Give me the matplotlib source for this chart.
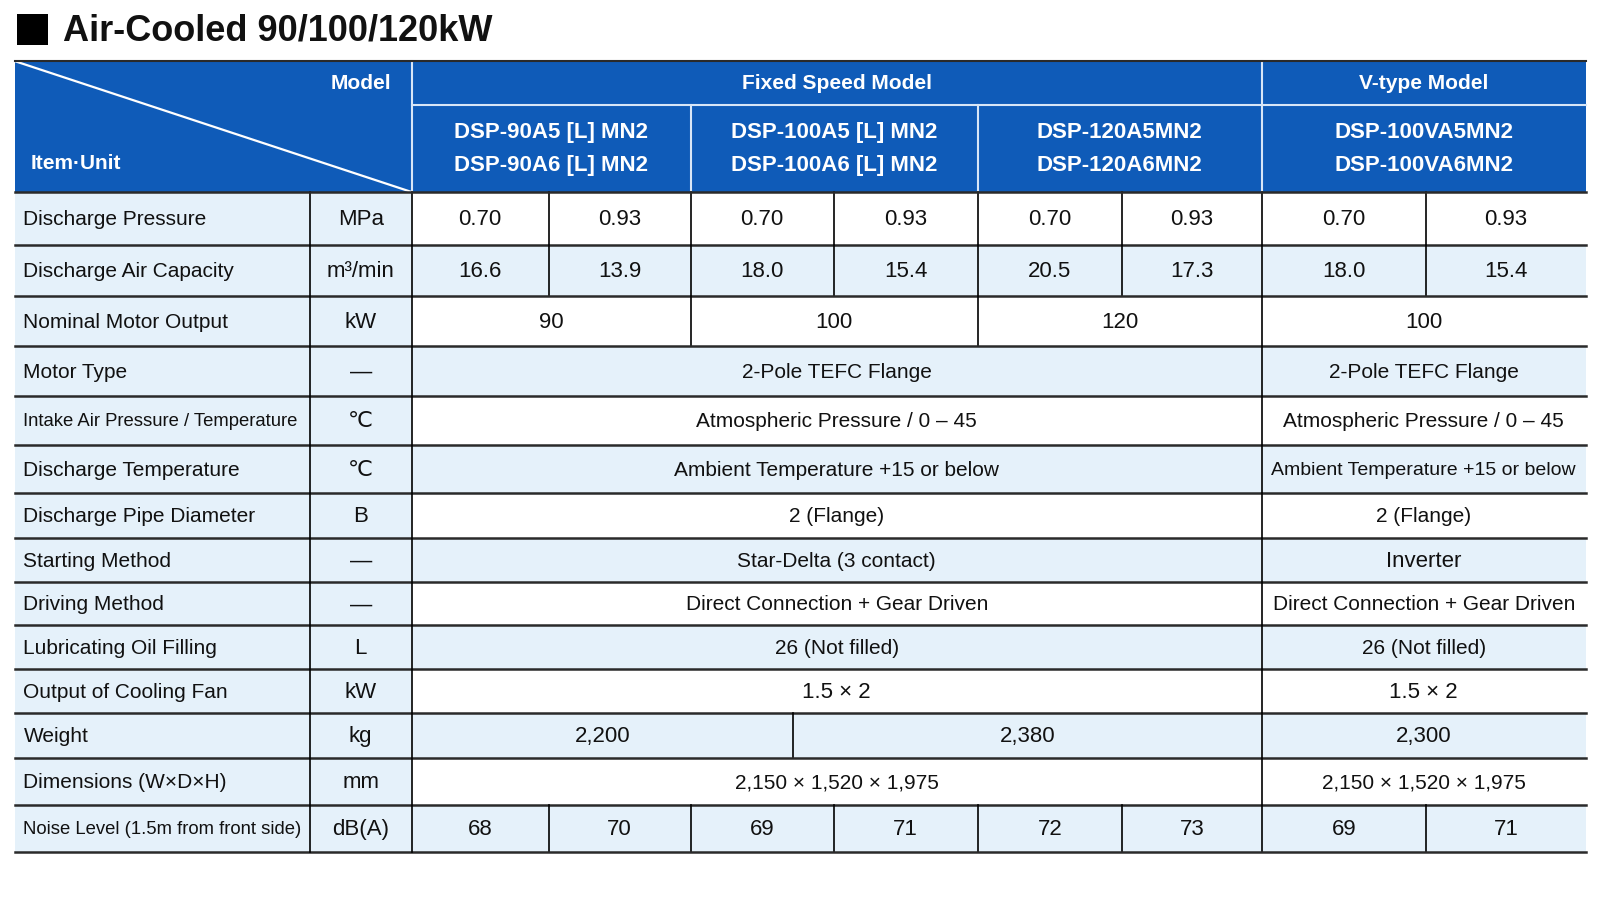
import matplotlib
matplotlib.use("Agg")
import matplotlib.pyplot as plt
from matplotlib.patches import Rectangle
import numpy as np

plt.rcParams['font.family'] = ['Liberation Sans', 'DejaVu Sans']

# Table content
title = "Air-Cooled 90/100/120kW"
groups = ["Fixed Speed Model", "V-type Model"]
models = [
    ["DSP-90A5 [L] MN2", "DSP-90A6 [L] MN2"],
    ["DSP-100A5 [L] MN2", "DSP-100A6 [L] MN2"],
    ["DSP-120A5MN2", "DSP-120A6MN2"],
    ["DSP-100VA5MN2", "DSP-100VA6MN2"],
]
items = [
    "Discharge Pressure", "Discharge Air Capacity", "Nominal Motor Output",
    "Motor Type", "Intake Air Pressure / Temperature", "Discharge Temperature",
    "Discharge Pipe Diameter", "Starting Method", "Driving Method",
    "Lubricating Oil Filling", "Output of Cooling Fan", "Weight",
    "Dimensions (W\u00d7D\u00d7H)", "Noise Level (1.5m from front side)",
]
units = ["MPa", "m\u00b3/min", "kW", "\u2014", "\u2103", "\u2103", "B",
         "\u2014", "\u2014", "L", "kW", "kg", "mm", "dB(A)"]

discharge_pressure = ["0.70", "0.93", "0.70", "0.93", "0.70", "0.93", "0.70", "0.93"]
air_capacity = ["16.6", "13.9", "18.0", "15.4", "20.5", "17.3", "18.0", "15.4"]
motor_output = ["90", "100", "120", "100"]
motor_type = ["2-Pole TEFC Flange", "2-Pole TEFC Flange"]
intake = ["Atmospheric Pressure / 0 \u2013 45", "Atmospheric Pressure / 0 \u2013 45"]
discharge_temp = ["Ambient Temperature +15 or below", "Ambient Temperature +15 or below"]
pipe = ["2 (Flange)", "2 (Flange)"]
starting = ["Star-Delta (3 contact)", "Inverter"]
driving = ["Direct Connection + Gear Driven", "Direct Connection + Gear Driven"]
oil = ["26 (Not filled)", "26 (Not filled)"]
fan = ["1.5 \u00d7 2", "1.5 \u00d7 2"]
weight = ["2,200", "2,380", "2,300"]
dimensions = ["2,150 \u00d7 1,520 \u00d7 1,975", "2,150 \u00d7 1,520 \u00d7 1,975"]
noise = ["68", "70", "69", "71", "72", "73", "69", "71"]

# column spans (in data-column units) for each kind of row
span_each = [(i, i + 1) for i in range(8)]
span_model = [(0, 2), (2, 4), (4, 6), (6, 8)]
span_group = [(0, 6), (6, 8)]
span_weight = [(0, 2.714), (2.714, 6), (6, 8)]

rows = [
    (discharge_pressure, span_each), (air_capacity, span_each),
    (motor_output, span_model), (motor_type, span_group),
    (intake, span_group), (discharge_temp, span_group),
    (pipe, span_group), (starting, span_group), (driving, span_group),
    (oil, span_group), (fan, span_group), (weight, span_weight),
    (dimensions, span_group), (noise, span_each),
]

# layout (pixel grid of the page)
W, H = 1566, 881
x_left, x_item, x_unit = 15, 303, 403
col_x = [403, 537, 676, 816, 957, 1098, 1235, 1396, 1552]
y_top, y_mid, y_head = 60, 103, 188
row_y = [188, 240, 290, 339, 388, 436, 483, 527, 570, 612, 655, 698, 742, 788, 834]

blue = "#0f5bb8"
light = "#e5f1fa"
line = "#2a2a2a"
ink = "#111111"

fig = plt.figure(figsize=(16, 9), dpi=100)
ax = fig.add_axes([0, 0, 1, 1])
ax.set_xlim(0, W)
ax.set_ylim(H, 0)
ax.axis('off')


def cx(c):
    return np.interp(c, np.arange(len(col_x)), col_x)


# title
ax.add_patch(Rectangle((17, 14), 30, 30, facecolor='black', edgecolor='none'))
ax.text(62, 30, title, fontsize=26, fontweight='bold', ha='left', va='center',
        color=ink)

# header block
ax.add_patch(Rectangle((x_left, y_top), col_x[-1] - x_left, y_head - y_top,
                       facecolor=blue, edgecolor='none'))
ax.plot([x_left, x_unit], [y_top, y_head], color='white', lw=1.6)
ax.plot([x_unit, col_x[-1]], [y_mid, y_mid], color='#d8e6f7', lw=1.5)
ax.plot([x_unit, x_unit], [y_top, y_head], color='#d8e6f7', lw=1.5)
ax.plot([cx(6), cx(6)], [y_top, y_head], color='#d8e6f7', lw=1.5)
for c in (2, 4):
    ax.plot([cx(c), cx(c)], [y_mid, y_head], color='#d8e6f7', lw=1.5)
ax.plot([x_left, col_x[-1]], [y_top, y_top], color=line, lw=1.5)

ax.text(383, 82, "Model", color='white', fontsize=15, fontweight='bold',
        ha='right', va='center')
ax.text(30, 160, "Item\u00b7Unit", color='white', fontsize=15, fontweight='bold',
        ha='left', va='center')
for g, (c0, c1) in zip(groups, span_group):
    ax.text((cx(c0) + cx(c1)) / 2, 82, g, color='white', fontsize=15,
            fontweight='bold', ha='center', va='center')
for m, (c0, c1) in zip(models, span_model):
    xm = (cx(c0) + cx(c1)) / 2
    ax.text(xm, 130, m[0], color='white', fontsize=16, fontweight='bold',
            ha='center', va='center')
    ax.text(xm, 162, m[1], color='white', fontsize=16, fontweight='bold',
            ha='center', va='center')

# body
for r, (vals, spans) in enumerate(rows):
    y0, y1 = row_y[r], row_y[r + 1]
    ym = (y0 + y1) / 2 + 1
    ax.add_patch(Rectangle((x_left, y0), x_unit - x_left, y1 - y0,
                           facecolor=light, edgecolor='none'))
    fill = 'white' if r % 2 == 0 else light
    ax.add_patch(Rectangle((x_unit, y0), col_x[-1] - x_unit, y1 - y0,
                           facecolor=fill, edgecolor='none'))
    lab_size = 13.3 if len(items[r]) > 28 else 15
    ax.text(23, ym, items[r], fontsize=lab_size, ha='left', va='center',
            color=ink)
    ax.text((x_item + x_unit) / 2, ym, units[r], fontsize=16, ha='center',
            va='center', color=ink)
    for v, (c0, c1) in zip(vals, spans):
        a, b = cx(c0), cx(c1)
        size = 16 if len(v) < 10 else 15
        if c0 >= 6 and len(v) > 31:
            size = 14
        ax.text((a + b) / 2, ym, v, fontsize=size, ha='center', va='center',
                color=ink)
        if c0 > 0:
            ax.plot([a, a], [y0, y1], color='black', lw=1.2)
    ax.plot([x_left, col_x[-1]], [y1, y1], color=line, lw=1.8)

for xv in (x_item, x_unit):
    ax.plot([xv, xv], [row_y[0], row_y[-1]], color='black', lw=1.2)
ax.plot([x_left, col_x[-1]], [row_y[0], row_y[0]], color=line, lw=1.8)

fig.savefig("out.png", dpi=100)
